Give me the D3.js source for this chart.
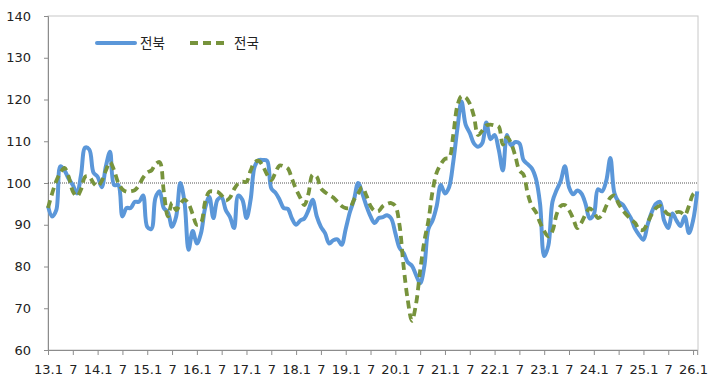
<!DOCTYPE html>
<html lang="ko">
<head>
<meta charset="UTF-8">
<title>전북 vs 전국</title>
<script src="https://d3js.org/d3.v7.min.js"></script>
<style>
  body { margin: 0; background: #fff; }
  svg { display: block; }
  text { font-family: "DejaVu Sans", Verdana, sans-serif; fill: #222; }
  .legend text { font-family: "Noto Sans CJK KR", sans-serif; }
</style>
</head>
<body>
<script>
// monthly index, 2013.1 .. 2026.2
const jeonbuk = [
  94.5, 92, 93.5, 104, 103, 101, 99.5, 97.5, 102, 108.5, 108, 102.5,
  101.5, 99, 104, 107.5, 99.5, 99.5, 92, 94, 94, 95.5, 95.5, 97,
  89.5, 89, 96.5, 98, 94, 93, 89.5, 92, 100, 95.5, 84, 88.5,
  85.5, 88, 94, 96.7, 91.6, 96, 96.5, 93.5, 91.9, 89.2, 97, 96,
  91.6, 96, 104, 105.5, 105.5, 105.3, 98.7, 97.7, 96, 94, 93.8, 91.5,
  90, 91, 91.5, 93.5, 96, 92, 89.5, 88, 85.5, 86.3, 86.5, 85.2,
  89, 93, 96, 100, 97.5, 94.5, 92, 90.4, 91.6, 91.8, 92.3, 91.5,
  88, 84.5, 83.2, 81, 80.2, 78, 76, 80, 89, 91, 94.5, 99.5,
  97.5, 99, 105, 113, 119.5, 114, 112, 109.5, 108.7, 109.5, 114.5, 110.5,
  111.5, 108, 103, 111.5, 109, 109.8, 109.5, 105.5, 104.5, 103.5, 101, 95,
  82.5, 85, 95.5, 98.3, 100.5, 104, 99, 97.3, 98.2, 97.5, 95, 91.5,
  92.5, 98.5, 98, 100.5, 106, 97.5, 95.5, 94.8, 93.2, 91.5, 89, 87.5,
  86.4, 90, 93, 95, 95.5, 91, 89.2, 92.7, 91, 89.7, 92, 88,
  91, 98
];
const national = [
  94, 97.5, 100.5, 102.5, 103.6, 101.5, 98, 96.8, 98.5, 101.5, 101.5, 100,
  99.2, 100.5, 103, 105, 103, 100, 98.5, 97.9, 98, 98.3, 99.5, 101.3,
  102.5, 103, 104.5, 105, 98, 92, 95.3, 93.5, 95, 96, 95, 92.5,
  90, 90.5, 95.5, 97.9, 98, 97.9, 97, 95.8, 96.5, 98.5, 99.9, 100.3,
  100.3, 103, 105, 105.3, 104, 102, 100.7, 102.5, 104.2, 104, 103.5, 101,
  98.5, 96.5, 94.7, 97.5, 102, 101.5, 98.7, 97.8, 97.1, 96.5, 95.5, 94.5,
  94, 94, 96, 97.5, 99, 97, 94.5, 93.3, 93.3, 94.5, 95, 95.2,
  94.5, 90, 80, 72, 67, 71, 79, 86, 91, 98, 102.5, 104.5,
  105.8, 106, 111.5, 118.5, 120.8, 120.5, 119, 116, 111.5, 112.5, 113.8, 114,
  113.8, 113.5, 109.2, 111, 109.5, 106.5, 103, 102, 97.5, 94.5, 93, 90.5,
  88.5, 87.2, 88.5, 92.5, 94.5, 94.7, 93.5, 91.5, 89.2, 90.5, 92.5, 93.9,
  93, 91.6, 92.3, 94.5, 96.5, 97, 95, 93.5, 92.3, 91.3, 90.4, 88.8,
  88.8, 90.5, 92.5, 94, 94.5, 93.5, 92.5, 92.5, 93, 93, 92.3, 94.5,
  97.3, 98
];
const tickLabels = [
  "13.1", "7", "14.1", "7", "15.1", "7", "16.1", "7", "17.1", "7",
  "18.1", "7", "19.1", "7", "20.1", "7", "21.1", "7", "22.1", "7",
  "23.1", "7", "24.1", "7", "25.1", "7", "26.1"
];
const yTicks = [60, 70, 80, 90, 100, 110, 120, 130, 140];

const W = 710, H = 385;
const plotL = 48, plotR = 698, plotT = 16, plotB = 350;

const svg = d3.select("body").append("svg")
  .attr("width", W)
  .attr("height", H);

const x = d3.scaleLinear().domain([0, jeonbuk.length - 1]).range([plotL, plotL + 157 * 4.135]);
const y = d3.scaleLinear().domain([60, 140]).range([plotB, plotT]);

// plot frame
svg.append("rect")
  .attr("x", plotL).attr("y", plotT)
  .attr("width", plotR - plotL).attr("height", plotB - plotT)
  .attr("fill", "none")
  .attr("stroke", "#c8c8c8")
  .attr("stroke-width", 1);

// y axis
const yAxis = svg.append("g")
  .attr("transform", `translate(${plotL},0)`)
  .call(d3.axisLeft(y).tickValues(yTicks).tickSize(4).tickPadding(13));
yAxis.select(".domain").attr("stroke", "#8c8c8c");
yAxis.selectAll(".tick line").attr("stroke", "#8c8c8c");
yAxis.selectAll("text").attr("font-size", 13).attr("fill", "#222");

// x axis
const xAxis = svg.append("g")
  .attr("transform", `translate(0,${plotB})`)
  .call(d3.axisBottom(x)
    .tickValues(d3.range(0, 157, 6))
    .tickFormat((d, i) => tickLabels[i])
    .tickSize(5).tickPadding(10));
xAxis.select(".domain").attr("stroke", "#8c8c8c");
xAxis.selectAll(".tick line").attr("stroke", "#8c8c8c");
xAxis.selectAll("text").attr("font-size", 13).attr("fill", "#222");

// reference line at 100
svg.append("line")
  .attr("x1", plotL).attr("x2", plotR)
  .attr("y1", y(100)).attr("y2", y(100))
  .attr("stroke", "#555")
  .attr("stroke-width", 1)
  .attr("stroke-dasharray", "1,1");

const line = d3.line()
  .x((d, i) => x(i))
  .y(d => y(d))
  .curve(d3.curveCatmullRom.alpha(0.5));

svg.append("path")
  .datum(jeonbuk)
  .attr("fill", "none")
  .attr("stroke", "#5b97d9")
  .attr("stroke-width", 4)
  .attr("stroke-linejoin", "round")
  .attr("d", line);

svg.append("path")
  .datum(national)
  .attr("fill", "none")
  .attr("stroke", "#77933c")
  .attr("stroke-width", 3.8)
  .attr("stroke-dasharray", "8,5")
  .attr("d", line);

// legend
const legend = svg.append("g").attr("class", "legend");
legend.append("line")
  .attr("x1", 97).attr("x2", 135).attr("y1", 43).attr("y2", 43)
  .attr("stroke", "#5b97d9").attr("stroke-width", 4).attr("stroke-linecap", "round");
legend.append("text")
  .attr("x", 140).attr("y", 48).attr("font-size", 13.5).text("전북");
legend.append("line")
  .attr("x1", 190).attr("x2", 228).attr("y1", 43).attr("y2", 43)
  .attr("stroke", "#77933c").attr("stroke-width", 3.8).attr("stroke-dasharray", "8,5");
legend.append("text")
  .attr("x", 234).attr("y", 48).attr("font-size", 13.5).text("전국");
</script>
</body>
</html>
